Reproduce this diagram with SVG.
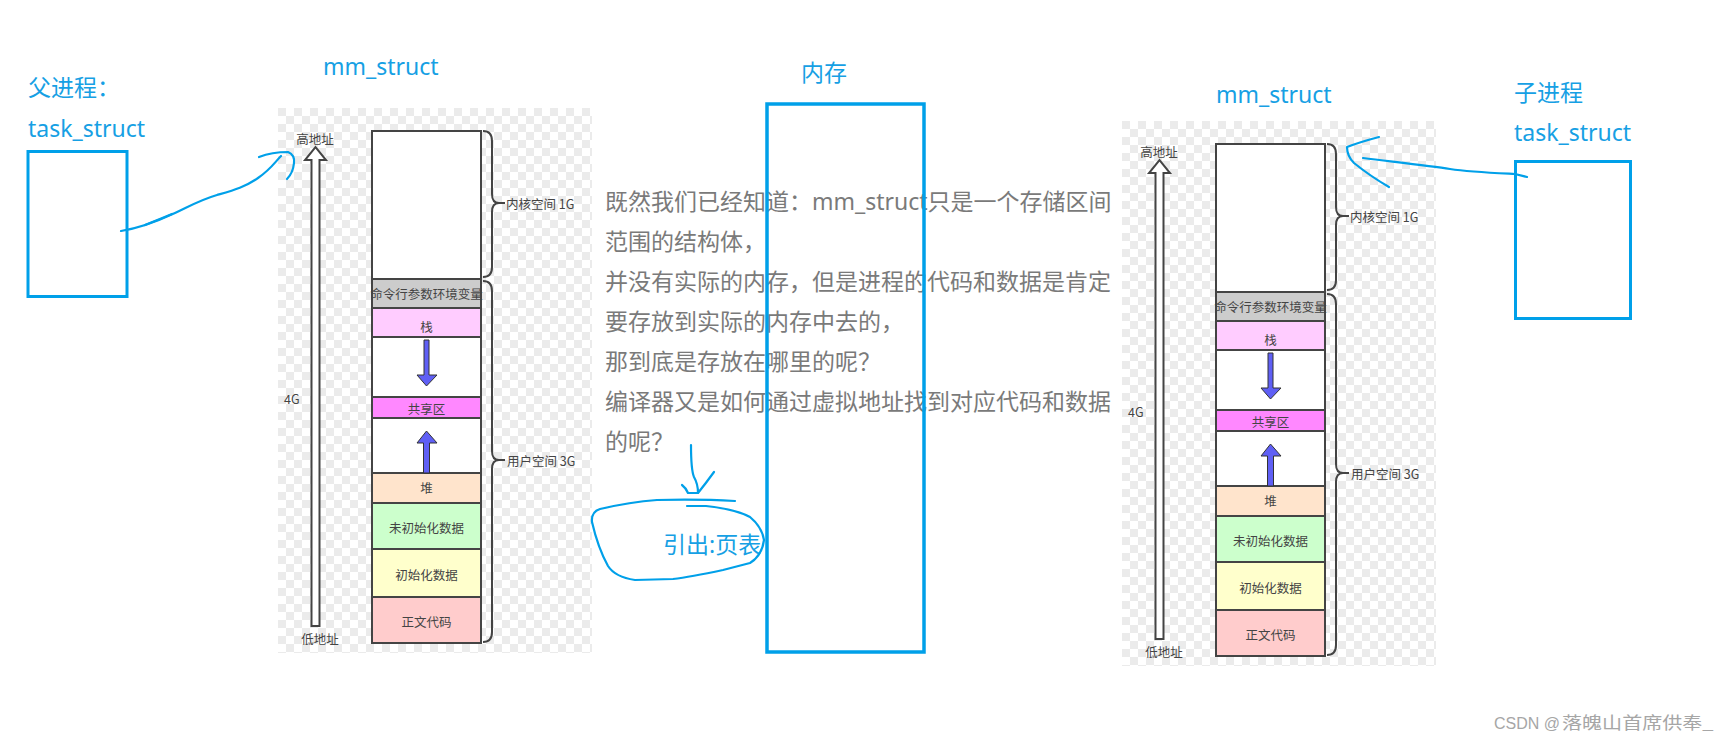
<svg xmlns="http://www.w3.org/2000/svg" width="1730" height="743" viewBox="0 0 1730 743">
<style>
.blue{fill:#16a0e4;font-family:"Noto Sans","Noto Sans CJK SC",sans-serif;font-size:23px}
.para{fill:#7a7a7a;font-family:"Noto Sans","Noto Sans CJK SC",sans-serif;font-size:23px}
.sm{fill:#444;font-family:"Noto Sans CJK SC",sans-serif;font-size:12.5px}
.smc{fill:#444;font-family:"Noto Sans CJK SC",sans-serif;font-size:12.5px;text-anchor:middle;dominant-baseline:central}
.seg{stroke:#444;stroke-width:2}
.brace{fill:none;stroke:#444;stroke-width:2}
.hand{fill:none;stroke:#00a0e9;stroke-width:2.2;stroke-linecap:round;stroke-linejoin:round}
.bbox{fill:none;stroke:#00a0e9;stroke-width:3}
.mbox{fill:none;stroke:#00a0e9;stroke-width:3.5}
.barrow{fill:#5f5ff5;stroke:#333;stroke-width:1}
.wm{fill:#a6a6a6;font-family:"Liberation Sans","Noto Sans CJK SC",sans-serif;font-size:16px}
.wmc{fill:#a6a6a6;font-family:"Noto Sans CJK SC",sans-serif;font-size:17px}
</style>
<defs>
<pattern id="checker" patternUnits="userSpaceOnUse" x="278" y="108" width="16" height="16">
<rect width="16" height="16" fill="#ffffff"/>
<rect width="8" height="8" fill="#ebebeb"/>
<rect x="8" y="8" width="8" height="8" fill="#ebebeb"/>
</pattern>
</defs>
<rect width="1730" height="743" fill="#ffffff"/>

<g id="parent-task">
<text class="blue" x="28" y="96">父进程：</text>
<text class="blue" x="28" y="137">task_struct</text>
<rect class="bbox" x="28" y="151.5" width="99" height="145"/>
</g>

<g id="mm-left">
<text class="blue" x="323" y="75">mm_struct</text>
<g id="mm-left-map">
<rect x="278" y="108" width="314" height="545" fill="url(#checker)"/>
<path d="M311.5,626 V160 H305 L315.5,147 L326,160 H319.5 V626 Z" fill="#fff" stroke="#444" stroke-width="2" stroke-linejoin="miter"/>
<text class="smc" x="315" y="138">高地址</text>
<text class="sm" x="284" y="398" dominant-baseline="central">4G</text>
<text class="smc" x="320" y="638">低地址</text>
<rect class="seg" x="372" y="131" width="109" height="148" fill="#fff"/>
<rect class="seg" x="372" y="279" width="109" height="29" fill="#cccccc"/>
<rect class="seg" x="372" y="308" width="109" height="29" fill="#ffccff"/>
<rect class="seg" x="372" y="337" width="109" height="60" fill="#fff"/>
<rect class="seg" x="372" y="397" width="109" height="21" fill="#ff88ff"/>
<rect class="seg" x="372" y="418" width="109" height="55" fill="#fff"/>
<rect class="seg" x="372" y="473" width="109" height="30" fill="#ffe4cc"/>
<rect class="seg" x="372" y="503" width="109" height="46" fill="#ccffcc"/>
<rect class="seg" x="372" y="549" width="109" height="48" fill="#ffffcc"/>
<rect class="seg" x="372" y="597" width="109" height="46" fill="#ffcccc"/>
<text class="smc" x="426.5" y="293" font-size="12.2">命令行参数环境变量</text>
<text class="smc" x="426.5" y="326">栈</text>
<text class="smc" x="426.5" y="408">共享区</text>
<text class="smc" x="426.5" y="487">堆</text>
<text class="smc" x="426.5" y="527">未初始化数据</text>
<text class="smc" x="426.5" y="574">初始化数据</text>
<text class="smc" x="426.5" y="621">正文代码</text>
<path class="barrow" d="M424,340 H429 V375 H437 L426.5,386 L417,375 H424 Z"/>
<path class="barrow" d="M423.5,473 V443 H417 L426.5,431 L437,443 H429.5 V473 Z"/>
<path class="brace" d="M483,131 Q492,131 492,141 V194 Q492,203 499,203 Q492,203 492,212 V267 Q492,277 483,277 M499,203 H505"/>
<path class="brace" d="M483,281 Q492,281 492,291 V451 Q492,460 499,460 Q492,460 492,469 V632 Q492,642 483,642 M499,460 H505"/>
<text class="sm" x="506" y="203" dominant-baseline="central">内核空间 1G</text>
<text class="sm" x="507" y="460" dominant-baseline="central">用户空间 3G</text>
</g>
</g>

<g id="question">
<text class="para" x="605" y="210">既然我们已经知道：mm_struct只是一个存储区间</text>
<text class="para" x="605" y="250">范围的结构体，</text>
<text class="para" x="605" y="290">并没有实际的内存，但是进程的代码和数据是肯定</text>
<text class="para" x="605" y="330">要存放到实际的内存中去的，</text>
<text class="para" x="605" y="370">那到底是存放在哪里的呢？</text>
<text class="para" x="605" y="410">编译器又是如何通过虚拟地址找到对应代码和数据</text>
<text class="para" x="605" y="450">的呢？</text>
</g>

<g id="memory">
<text class="blue" x="801" y="81">内存</text>
<rect class="mbox" x="767" y="104" width="157" height="548"/>
</g>

<g id="page-table-note">
<text class="blue" x="663" y="553" font-size="22">引出:页表</text>
</g>

<g id="mm-right">
<text class="blue" x="1216" y="103">mm_struct</text>
<g id="mm-right-map" transform="translate(844,13)">
<rect x="278" y="108" width="314" height="545" fill="url(#checker)"/>
<path d="M311.5,626 V160 H305 L315.5,147 L326,160 H319.5 V626 Z" fill="#fff" stroke="#444" stroke-width="2" stroke-linejoin="miter"/>
<text class="smc" x="315" y="138">高地址</text>
<text class="sm" x="284" y="398" dominant-baseline="central">4G</text>
<text class="smc" x="320" y="638">低地址</text>
<rect class="seg" x="372" y="131" width="109" height="148" fill="#fff"/>
<rect class="seg" x="372" y="279" width="109" height="29" fill="#cccccc"/>
<rect class="seg" x="372" y="308" width="109" height="29" fill="#ffccff"/>
<rect class="seg" x="372" y="337" width="109" height="60" fill="#fff"/>
<rect class="seg" x="372" y="397" width="109" height="21" fill="#ff88ff"/>
<rect class="seg" x="372" y="418" width="109" height="55" fill="#fff"/>
<rect class="seg" x="372" y="473" width="109" height="30" fill="#ffe4cc"/>
<rect class="seg" x="372" y="503" width="109" height="46" fill="#ccffcc"/>
<rect class="seg" x="372" y="549" width="109" height="48" fill="#ffffcc"/>
<rect class="seg" x="372" y="597" width="109" height="46" fill="#ffcccc"/>
<text class="smc" x="426.5" y="293" font-size="12.2">命令行参数环境变量</text>
<text class="smc" x="426.5" y="326">栈</text>
<text class="smc" x="426.5" y="408">共享区</text>
<text class="smc" x="426.5" y="487">堆</text>
<text class="smc" x="426.5" y="527">未初始化数据</text>
<text class="smc" x="426.5" y="574">初始化数据</text>
<text class="smc" x="426.5" y="621">正文代码</text>
<path class="barrow" d="M424,340 H429 V375 H437 L426.5,386 L417,375 H424 Z"/>
<path class="barrow" d="M423.5,473 V443 H417 L426.5,431 L437,443 H429.5 V473 Z"/>
<path class="brace" d="M483,131 Q492,131 492,141 V194 Q492,203 499,203 Q492,203 492,212 V267 Q492,277 483,277 M499,203 H505"/>
<path class="brace" d="M483,281 Q492,281 492,291 V451 Q492,460 499,460 Q492,460 492,469 V632 Q492,642 483,642 M499,460 H505"/>
<text class="sm" x="506" y="203" dominant-baseline="central">内核空间 1G</text>
<text class="sm" x="507" y="460" dominant-baseline="central">用户空间 3G</text>
</g>
</g>

<g id="child-task">
<text class="blue" x="1514" y="101">子进程</text>
<text class="blue" x="1514" y="141">task_struct</text>
<rect class="bbox" x="1515.5" y="161.5" width="115" height="157"/>
</g>

<g id="connectors">
<path class="hand" d="M121,231 C140,228 160,220 175,213 S200,200 217,195 S245,187 258,178 S275,162 281,156"/>
<path class="hand" d="M145,225 Q160,219 172,214"/>
<path class="hand" d="M259,157 Q272,152 288,152 Q295,155 294,163 Q293,173 287,179"/>
<path class="hand" d="M1527,177 L1515,174 C1495,173 1470,172 1450,169 S1395,162 1363,158"/>
<path class="hand" d="M1379,137 Q1360,142 1347,147 Q1347,156 1354,163 Q1370,176 1389,187"/>
<path class="hand" d="M691,445 Q691,470 694,477 Q698,484 698,493"/>
<path class="hand" d="M682,485 Q686,488 688,493 L698,493 Q706,483 714,472"/>
<path class="hand" d="M657,500 Q700,499 735,501"/>
<path class="hand" d="M687,506 L706,506 Q735,509 750,517 Q762,527 764,540 Q762,556 750,563 L723,570 Q690,577 673,579 L635,580 Q615,577 608,566 Q598,548 592,522 Q591,512 600,509 Q630,502 657,500"/>
</g>

<g id="watermark">
<text class="wm" x="1494" y="729">CSDN @</text>
<text class="wmc" transform="translate(1562,729) scale(1.18,1)" x="0" y="0">落魄山首席供奉_</text>
</g>
</svg>
